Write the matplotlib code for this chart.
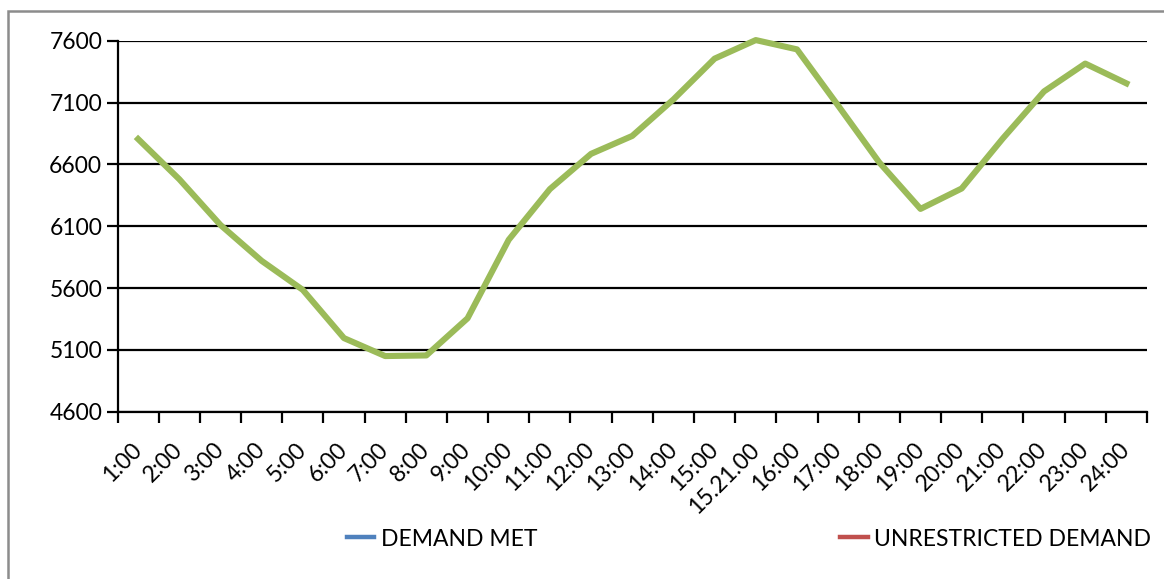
import matplotlib.pyplot as plt
from matplotlib.lines import Line2D
from matplotlib.patches import Rectangle

plt.rcParams['font.family'] = ['Lato', 'DejaVu Sans']

# Hourly demand (MW)
hours = ['1:00', '2:00', '3:00', '4:00', '5:00', '6:00', '7:00', '8:00', '9:00',
         '10:00', '11:00', '12:00', '13:00', '14:00', '15:00', '15.21.00', '16:00',
         '17:00', '18:00', '19:00', '20:00', '21:00', '22:00', '23:00', '24:00']
demand_met = [6805, 6480, 6110, 5820, 5585, 5195, 5050, 5055, 5355, 5990, 6400,
              6685, 6830, 7125, 7455, 7605, 7530, 7075, 6615, 6240, 6405, 6810,
              7190, 7415, 7255]
unrestricted = list(demand_met)
total = list(demand_met)

yticks = [4600, 5100, 5600, 6100, 6600, 7100, 7600]

fig = plt.figure(figsize=(11.64, 5.79), dpi=100)
ax = fig.add_axes([117.5 / 1164, 1 - 411.7 / 579, 1029.5 / 1164, 371 / 579])

x = range(len(hours))
# the two legend series sit under the green total line
ax.plot(x, demand_met, color='#4F81BD', lw=2, clip_on=False)
ax.plot(x, unrestricted, color='#C0504D', lw=2, clip_on=False)
ax.plot(x, total, color='#9BBB59', lw=4.4, clip_on=False, zorder=3)

ax.set_xlim(-0.5, len(hours) - 0.5)
ax.set_ylim(4600, 7600)
ax.set_yticks(yticks)
ax.set_yticklabels([str(v) for v in yticks], fontsize=16.5)
ax.grid(axis='y', color='black', lw=1.6)
ax.set_axisbelow(True)

# category labels centred, tick marks between categories
ax.set_xticks(list(x))
ax.set_xticklabels(hours, rotation=45, ha='right', va='center',
                   rotation_mode='anchor', fontsize=16.5)
ax.tick_params(axis='x', length=0, pad=25)
ax.set_xticks([i - 0.5 for i in range(len(hours) + 1)], minor=True)
ax.tick_params(axis='x', which='minor', length=8, width=1.6, direction='out')
ax.tick_params(axis='y', length=8, width=1.6, direction='out', pad=3)

for side in ['top', 'right']:
    ax.spines[side].set_visible(False)
for side in ['left', 'bottom']:
    ax.spines[side].set_linewidth(1.6)

handles = [Line2D([], [], color='#4F81BD', lw=3.2),
           Line2D([], [], color='#C0504D', lw=3.2)]
fig.legend(handles, ['DEMAND MET', 'UNRESTRICTED DEMAND'], ncol=2, frameon=False,
           fontsize=16.5, handlelength=1.2, handletextpad=0.3, columnspacing=13.2,
           loc='center', bbox_to_anchor=(749 / 1164, 1 - 539 / 579))

# outer chart border
fig.patches.append(Rectangle((8 / 1164, -0.2), 1.5, 1.2 - 11 / 579, transform=fig.transFigure,
                             fill=False, edgecolor='#8c8c8c', lw=1.8))

fig.savefig('out.png', dpi=100)
